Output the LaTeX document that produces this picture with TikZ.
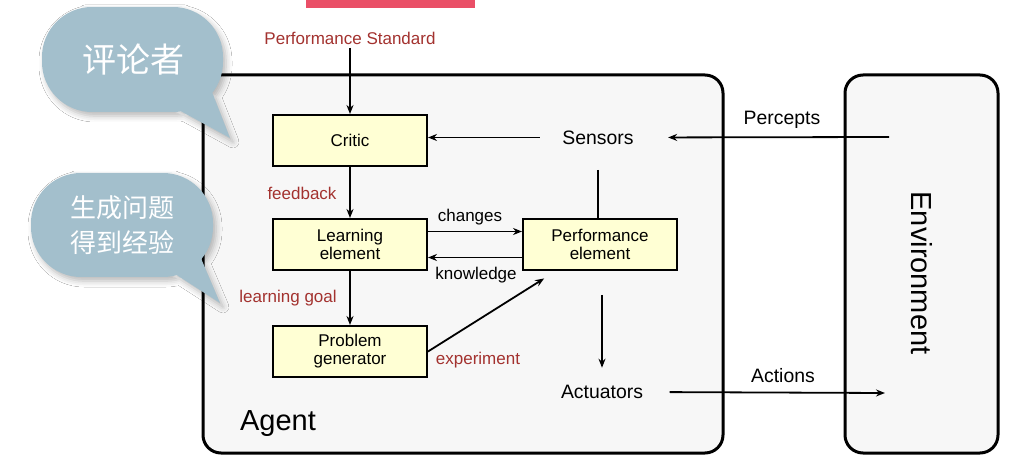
\documentclass[tikz,border=0pt]{standalone}
\usepackage{fontspec}
\setmainfont{Liberation Sans}
\newfontfamily\cjk{Noto Sans CJK SC}
\usetikzlibrary{arrows.meta,positioning,calc,shadows.blur}
\definecolor{boxyellow}{HTML}{FFFFD4}
\definecolor{labelred}{HTML}{A3322F}
\definecolor{bubbleblue}{HTML}{A3BFCC}
\definecolor{panelgray}{HTML}{F7F7F7}
\definecolor{barpink}{HTML}{EA4F67}

\begin{document}
\begin{tikzpicture}[x=1pt,y=-1pt,
  elem/.style={draw,line width=2pt,fill=boxyellow,minimum width=154pt,minimum height=51pt,
    align=center,font=\fontsize{17}{18}\selectfont},
  lbl/.style={text=labelred,font=\fontsize{17}{18}\selectfont},
  word/.style={font=\fontsize{17}{18}\selectfont},
  io/.style={font=\fontsize{19.4}{20}\selectfont},
  big/.style={font=\fontsize{29}{30}\selectfont},
  arr/.style={line width=1.8pt,-{Stealth[length=9pt,width=7pt]}},
  panel/.style={draw,line width=3pt,fill=panelgray,rounded corners=18pt},
  bubble/.style={fill=bubbleblue,blur shadow={shadow xshift=3pt,shadow yshift=-4pt,
    shadow blur radius=6pt,shadow opacity=28}}]
\fill[white] (0,0) rectangle (1018,465);
\useasboundingbox (0,0) rectangle (1018,465);

\draw[panel] (203,75) rectangle (723,453);
\draw[panel] (845,75) rectangle (998,453);

\node[elem] (critic) at (350,140.5) {Critic};
\node[elem,below=51pt of critic] (learn) {Learning\\element};
\node[elem,right=94pt of learn] (perf) {Performance\\element};
\node[elem,below=54pt of learn] (prob) {Problem\\generator};

\node[io] (sensors) at (598,137.5) {Sensors};
\node[io] (act) at (602,392) {Actuators};
\node[io] (percepts) at (782,120) {Percepts};
\node[io] (actions) at (783,376) {Actions};
\node[big] (agent) at (278,424) {Agent};
\node[big,rotate=-90] (env) at (922,273) {Environment};

\node[lbl] (std) at (350,38) {Performance Standard};
\node[lbl] (fb) at (302,193) {feedback};
\node[lbl] (goal) at (288,298) {learning goal};
\node[lbl] (expt) at (478,360) {experiment};
\node[word] (chg) at (470,217) {changes};
\node[word] (know) at (476,275) {knowledge};

\coordinate (pin) at (889,137);
\coordinate (aout) at (885,393);

\draw[arr] (std) -- (critic);
\draw[arr] (critic) -- (learn);
\draw[arr] (learn) -- (prob);
\draw[arr] ([yshift=13pt]learn.east) -- ([yshift=13pt]perf.west);
\draw[arr] ([yshift=-13pt]perf.west) -- ([yshift=-13pt]learn.east);
\draw[arr,shorten >=14pt] (prob.east) -- ([xshift=34pt]perf.south west);
\draw[arr,shorten <=19pt] (sensors.west) -- (sensors.west -| critic.east);
\draw[line width=1.8pt,shorten <=22pt] (sensors.south) -- (sensors.south |- perf.north);
\draw[arr,shorten <=24pt,shorten >=14pt] (act.north |- perf.south) -- (act.north);
\draw[arr,shorten >=31pt] (pin) -- (sensors.east);
\draw[arr,shorten <=23pt] (act.east) -- (aout);

\path[bubble,rounded corners=50pt] (132,7) -- (223,7) -- (223,112) -- (42,112) -- (42,7) -- cycle
  [sharp corners] (175,108) -- (212,92) -- (230,138) -- cycle;
\node[text=white,font=\cjk\fontsize{34}{36}\selectfont] (critictag) at (133,60) {评论者};
\path[bubble,rounded corners=50pt] (122,173) -- (213,173) -- (213,277) -- (31,277) -- (31,173) -- cycle
  [sharp corners] (172,272) -- (200,256) -- (220,303) -- cycle;
\node[text=white,font=\cjk\fontsize{26}{35}\selectfont,align=center] (probtag) at (122,225) {生成问题\\得到经验};

\fill[barpink] (306,0) rectangle (475,8);
\end{tikzpicture}
\end{document}
